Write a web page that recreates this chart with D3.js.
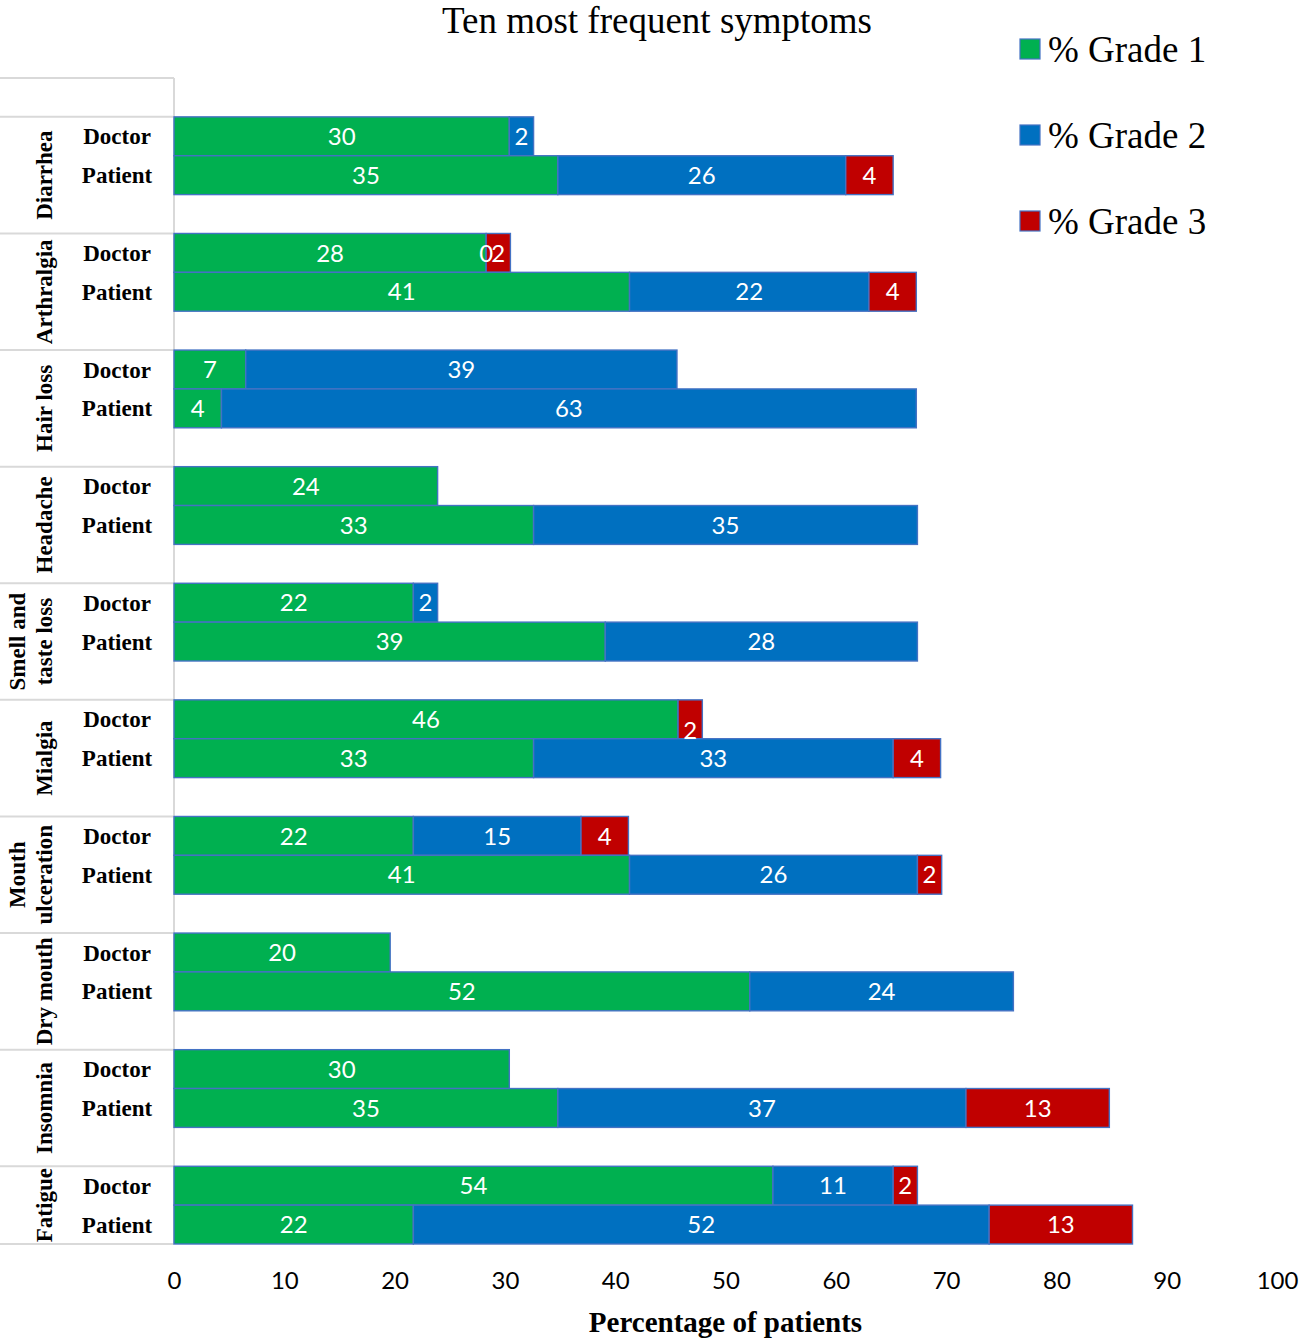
<!DOCTYPE html>
<html>
<head>
<meta charset="utf-8">
<script src="https://cdn.jsdelivr.net/npm/d3@7"></script>
<style>
  body { margin: 0; background: #fff; }
  svg { display: block; }
</style>
</head>
<body>
<svg id="chart" width="1299" height="1342"></svg>
<script>
// data (percent of patients, n looks like 46)
const symptoms = ['Diarrhea', 'Arthralgia', 'Hair loss', 'Headache', 'Smell and\ntaste loss',
  'Mialgia', 'Mouth\nulceration', 'Dry mouth', 'Insomnia', 'Fatigue'];
const raters = ['Doctor', 'Patient'];
const grades = ['% Grade 1', '% Grade 2', '% Grade 3'];
// null = no segment, 0 = empty segment that still shows its label
const doctorG1 = [30.4, 28.3, 6.5, 23.9, 21.7, 45.7, 21.7, 19.6, 30.4, 54.3];
const doctorG2 = [2.2, 0, 39.1, null, 2.2, null, 15.2, null, null, 10.9];
const doctorG3 = [null, 2.2, null, null, null, 2.2, 4.3, null, null, 2.2];
const patientG1 = [34.8, 41.3, 4.3, 32.6, 39.1, 32.6, 41.3, 52.2, 34.8, 21.7];
const patientG2 = [26.1, 21.7, 63.0, 34.8, 28.3, 32.6, 26.1, 23.9, 37.0, 52.2];
const patientG3 = [4.3, 4.3, null, null, null, 4.3, 2.2, null, 13.0, 13.0];
const xTicks = [0, 10, 20, 30, 40, 50, 60, 70, 80, 90, 100];

const colors = ['#00B050', '#0070C0', '#C00000'];
const serif = "'Liberation Serif', 'DejaVu Serif', serif";
const sans = "Lato, 'Open Sans', sans-serif";

const svg = d3.select('#chart');
const plotLeft = 174, plotTop = 78, plotBottom = 1244;

// row keys: an empty row on top, then Doctor / Patient / gap for each symptom
const rowKeys = ['blank'];
symptoms.forEach((s, i) => {
  rowKeys.push(i + '-Doctor', i + '-Patient');
  if (i < symptoms.length - 1) rowKeys.push(i + '-gap');
});

const x = d3.scaleLinear().domain([0, 100]).range([plotLeft, 1277]);
const y = d3.scaleBand().domain(rowKeys).range([plotTop, plotBottom]).padding(0);
const bw = y.bandwidth();

// build the segments
const segs = [];
symptoms.forEach((s, i) => {
  const sets = {
    Doctor: [doctorG1[i], doctorG2[i], doctorG3[i]],
    Patient: [patientG1[i], patientG2[i], patientG3[i]]
  };
  raters.forEach(r => {
    let x0 = 0;
    sets[r].forEach((v, g) => {
      if (v === null) return;
      segs.push({ i, r, g, v, x0, key: i + '-' + r });
      x0 += v;
    });
  });
});

// title
svg.append('text')
  .attr('x', 657).attr('y', 33)
  .attr('text-anchor', 'middle')
  .style('font-family', serif).style('font-size', '37px')
  .text('Ten most frequent symptoms');

// left table lines
const grid = svg.append('g').attr('stroke', '#d9d9d9').attr('stroke-width', 2);
grid.append('line').attr('x1', 0).attr('x2', plotLeft).attr('y1', plotTop).attr('y2', plotTop);
grid.append('line').attr('x1', 0).attr('x2', plotLeft).attr('y1', plotBottom).attr('y2', plotBottom);
grid.append('line').attr('x1', plotLeft).attr('x2', plotLeft).attr('y1', plotTop).attr('y2', plotBottom);
symptoms.forEach((s, i) => {
  const yy = y(i + '-Doctor');
  grid.append('line').attr('x1', 0).attr('x2', plotLeft).attr('y1', yy).attr('y2', yy);
});

// bars
svg.append('g')
  .selectAll('rect')
  .data(segs.filter(d => d.v > 0))
  .join('rect')
  .attr('x', d => x(d.x0))
  .attr('y', d => y(d.key))
  .attr('width', d => x(d.x0 + d.v) - x(d.x0))
  .attr('height', bw)
  .attr('fill', d => colors[d.g])
  .attr('stroke', '#4472C4')
  .attr('stroke-width', 1.4);

// value labels
const fmt = d3.format('.0f');
svg.append('g')
  .selectAll('text')
  .data(segs)
  .join('text')
  .attr('x', d => x(d.x0 + d.v / 2))
  .attr('y', d => y(d.key) + bw / 2 + ((d.r === 'Doctor' && d.g === 2 && doctorG2[d.i] === null) ? 11 : 0))
  .attr('dy', '0.36em')
  .attr('text-anchor', 'middle')
  .attr('fill', '#fff')
  .style('font-family', sans).style('font-size', '24px')
  .text(d => fmt(d.v));

// rater labels
svg.append('g')
  .selectAll('text')
  .data(symptoms.flatMap((s, i) => raters.map(r => ({ i, r }))))
  .join('text')
  .attr('x', 117)
  .attr('y', d => y(d.i + '-' + d.r) + bw / 2)
  .attr('dy', '0.35em')
  .attr('text-anchor', 'middle')
  .style('font-family', serif).style('font-size', '23px').style('font-weight', 'bold')
  .text(d => d.r);

// symptom labels, rotated
symptoms.forEach((s, i) => {
  const y0 = y(i + '-Doctor');
  const span = i < symptoms.length - 1 ? 3 * bw : 2 * bw;
  const cy = y0 + span / 2;
  const lines = s.split('\n');
  lines.forEach((ln, k) => {
    const cx = 44 - (lines.length - 1 - k) * 27;
    svg.append('text')
      .attr('transform', 'translate(' + cx + ',' + cy + ') rotate(-90)')
      .attr('text-anchor', 'middle')
      .attr('dy', '0.33em')
      .style('font-family', serif).style('font-size', '23px').style('font-weight', 'bold')
      .text(ln);
  });
});

// x axis (labels only)
const xAxis = d3.axisBottom(x).tickValues(xTicks).tickSize(0).tickPadding(0);
svg.append('g')
  .attr('transform', 'translate(0,1272)')
  .call(xAxis)
  .call(g => g.select('.domain').remove())
  .call(g => g.selectAll('text')
    .attr('dy', '0.71em')
    .attr('fill', '#000')
    .style('font-family', sans).style('font-size', '24px'));

svg.append('text')
  .attr('x', x(50)).attr('y', 1332)
  .attr('text-anchor', 'middle')
  .style('font-family', serif).style('font-size', '29px').style('font-weight', 'bold')
  .text('Percentage of patients');

// legend
const legend = svg.append('g')
  .selectAll('g')
  .data(grades)
  .join('g')
  .attr('transform', (d, k) => 'translate(1020,' + (39 + k * 86) + ')');
legend.append('rect')
  .attr('width', 20).attr('height', 20)
  .attr('fill', (d, k) => colors[k])
  .attr('stroke', '#4472C4').attr('stroke-width', 1.2);
legend.append('text')
  .attr('x', 28).attr('y', 23)
  .style('font-family', serif).style('font-size', '37px')
  .text(d => d);
</script>
</body>
</html>
